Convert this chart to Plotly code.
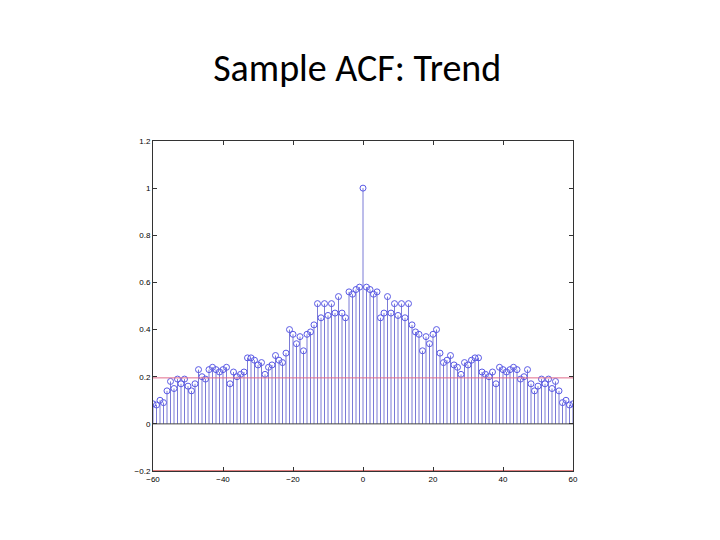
import numpy as np
import plotly.graph_objects as go

# one-sided sample ACF, lags 0..60 (mirrored for negative lags)
acf_pos = [1.0, 0.58, 0.57, 0.55, 0.56, 0.45, 0.47, 0.54, 0.47, 0.51, 0.46,
           0.51, 0.45, 0.51, 0.42, 0.39, 0.38, 0.31, 0.37, 0.34, 0.38,
           0.40, 0.30, 0.26, 0.27, 0.29, 0.25, 0.24, 0.21, 0.26, 0.25,
           0.27, 0.28, 0.28, 0.22, 0.21, 0.20, 0.22, 0.17, 0.24, 0.23,
           0.22, 0.23, 0.24, 0.23, 0.19, 0.20, 0.23, 0.17, 0.14, 0.16,
           0.19, 0.17, 0.19, 0.15, 0.18, 0.14, 0.09, 0.10, 0.08, 0.085]
conf_bound = [0.195, -0.2]

lags = list(range(-60, 61))
acf = acf_pos[:0:-1] + acf_pos

stem_x, stem_y = [], []
for k, v in zip(lags, acf):
    stem_x += [k, k, None]
    stem_y += [0, v, None]

fig = go.Figure()
fig.add_trace(go.Scatter(x=stem_x, y=stem_y, mode="lines",
                         line=dict(color="#7b7bd6", width=1), hoverinfo="skip"))
fig.add_trace(go.Scatter(x=lags, y=acf, mode="markers",
                         marker=dict(symbol="circle-open", size=6, color="#5a5ae6",
                                     line=dict(width=1))))
fig.add_trace(go.Scatter(x=[-60, 60], y=[0, 0], mode="lines",
                         line=dict(color="#444", width=1)))
for b in conf_bound:
    fig.add_trace(go.Scatter(x=[-60, 60], y=[b, b], mode="lines",
                             line=dict(color="#e06a8a" if b > 0 else "#c00000", width=1)))

fig.update_layout(
    width=720, height=540, showlegend=False,
    paper_bgcolor="white", plot_bgcolor="white",
    margin=dict(l=145, r=155, t=133, b=77),
    title=dict(text="Sample ACF: Trend", x=0.485, xanchor="center", y=0.89, yanchor="middle",
               font=dict(family="Carlito, Liberation Sans, sans-serif", size=38, color="black")),
    font=dict(family="Liberation Sans, Arial", size=8, color="black"),
)
axis = dict(showgrid=False, zeroline=False, showline=True, mirror="ticks",
            linecolor="#333", linewidth=1, ticks="inside", ticklen=4, tickcolor="#333")
fig.update_xaxes(range=[-60, 60], tickvals=[-60, -40, -20, 0, 20, 40, 60],
                 ticktext=["\u221260", "\u221240", "\u221220", "0", "20", "40", "60"], **axis)
fig.update_yaxes(range=[-0.2, 1.2], tickvals=[-0.2, 0, 0.2, 0.4, 0.6, 0.8, 1, 1.2],
                 ticktext=["\u22120.2", "0", "0.2", "0.4", "0.6", "0.8", "1", "1.2"], **axis)

fig.write_html("out.html")
